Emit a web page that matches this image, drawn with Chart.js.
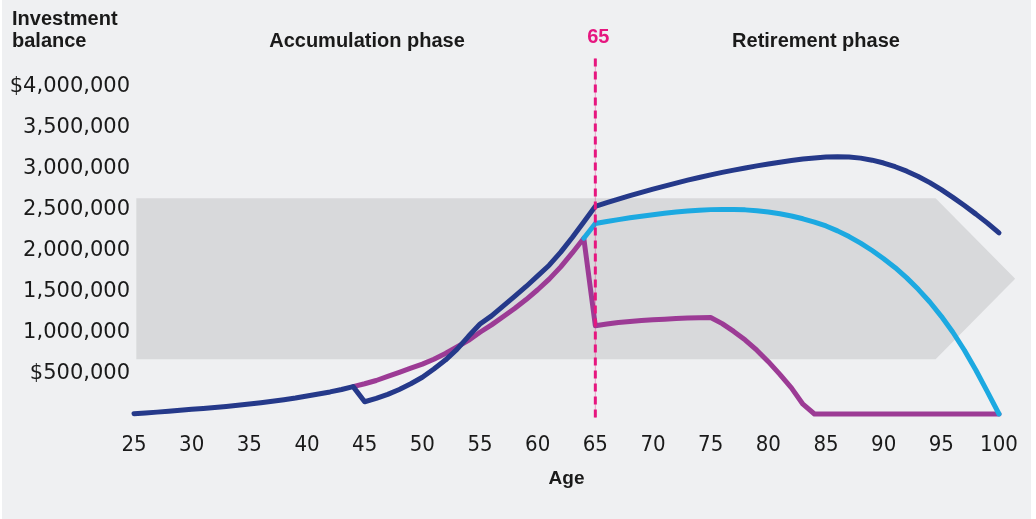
<!DOCTYPE html>
<html><head><meta charset="utf-8">
<script src="https://cdn.jsdelivr.net/npm/chart.js@4"></script>
<style>html,body{margin:0;padding:0;background:#ffffff;}#wrap{width:1036px;height:519px;position:relative;}</style>
</head><body><div id="wrap"><canvas id="c"></canvas></div>
<script>
const ages = [25,26,27,28,29,30,31,32,33,34,35,36,37,38,39,40,41,42,43,44,45,46,47,48,49,50,
  51,52,53,54,55,56,57,58,59,60,61,62,63,64,65,66,67,68,69,70,71,72,73,74,75,
  76,77,78,79,80,81,82,83,84,85,86,87,88,89,90,91,92,93,94,95,96,97,98,99,100];

// Dark blue series (ages 25-100)
const balanceDarkBlue = [4000,13000,23000,34000,45000,57000,68000,80000,93000,107000,
  122000,138000,155000,174000,195000,220000,245000,270000,300000,335000,
  150000,190000,240000,300000,370000,450000,550000,660000,790000,950000,
  1100000,1200000,1320000,1440000,1560000,1690000,1820000,1980000,2160000,2350000,
  2540000,2585000,2628000,2670000,2710000,2750000,2788000,2825000,2860000,2893000,
  2925000,2955000,2983000,3010000,3035000,3058000,3080000,3100000,3118000,3132000,
  3143000,3148000,3145000,3130000,3105000,3070000,3025000,2970000,2905000,2830000,
  2745000,2650000,2550000,2445000,2335000,2215000];

// Light blue series (ages 25-100, starts at 64)
const balanceLightBlue = [null,null,null,null,null,null,null,null,null,null,
  null,null,null,null,null,null,null,null,null,null,
  null,null,null,null,null,null,null,null,null,null,
  null,null,null,null,null,null,null,null,null,2150000,
  2330000,2355000,2378000,2400000,2420000,2438000,2455000,2470000,2483000,2493000,
  2500000,2503000,2502000,2497000,2487000,2472000,2450000,2422000,2388000,2348000,
  2300000,2240000,2170000,2090000,2000000,1900000,1790000,1665000,1525000,1370000,
  1195000,1000000,780000,535000,270000,0];

// Purple series (ages 25-100, starts at 44)
const balancePurple = [null,null,null,null,null,null,null,null,null,null,
  null,null,null,null,null,null,null,null,null,335000,
  370000,410000,460000,510000,560000,610000,670000,740000,820000,900000,
  1000000,1090000,1190000,1290000,1400000,1520000,1650000,1800000,1970000,2150000,
  1080000,1100000,1118000,1132000,1143000,1152000,1160000,1167000,1173000,1177000,
  1180000,1105000,1010000,905000,780000,640000,485000,320000,120000,0,
  0,0,0,0,0,0,0,0,0,0,
  0,0,0,0,0,0];

const xTickValues = [25,30,35,40,45,50,55,60,65,70,75,80,85,90,95,100];
const yTickValues = [500000,1000000,1500000,2000000,2500000,3000000,3500000,4000000];
const yTickLabels = ['$500,000','1,000,000','1,500,000','2,000,000','2,500,000','3,000,000','3,500,000','$4,000,000'];

const retirementAge = 65;

const toPoints = arr => ages.map((a,i)=>({x:a,y:arr[i]})).filter(p=>p.y!==null);

const bgPlugin = {
  id:'bg',
  beforeDraw(chart){
    const ctx=chart.ctx;
    ctx.save();
    ctx.fillStyle='#ffffff';ctx.fillRect(0,0,chart.width,chart.height);
    ctx.fillStyle='#eff0f2';ctx.fillRect(2,0,1029,chart.height);
    ctx.restore();
  }
};

const bandPlugin = {
  id:'band',
  beforeDatasetsDraw(chart){
    const {ctx,scales:{x,y}}=chart;
    const x0=x.getPixelForValue(25.2), x1=x.getPixelForValue(94.5), xt=x.getPixelForValue(101.4);
    const yT=y.getPixelForValue(2640000), yB=y.getPixelForValue(670000), yM=(yT+yB)/2;
    ctx.save();
    ctx.fillStyle='#d8d9db';
    ctx.beginPath();
    ctx.moveTo(x0,yT);ctx.lineTo(x1,yT);ctx.lineTo(xt,yM);ctx.lineTo(x1,yB);ctx.lineTo(x0,yB);
    ctx.closePath();ctx.fill();
    ctx.restore();
  }
};

const annoPlugin = {
  id:'anno',
  afterDatasetsDraw(chart){
    const {ctx,scales:{x,y}}=chart;
    const px=x.getPixelForValue(retirementAge);
    const yTop=y.getPixelForValue(4350000), yBot=y.getPixelForValue(-45000);
    ctx.save();
    ctx.strokeStyle='rgba(230,22,127,0.35)';ctx.lineWidth=1;
    ctx.beginPath();ctx.moveTo(px,yTop);ctx.lineTo(px,yBot);ctx.stroke();
    ctx.strokeStyle='#e6167f';ctx.lineWidth=3;ctx.setLineDash([8,5]);
    ctx.beginPath();ctx.moveTo(px,yTop);ctx.lineTo(px,yBot);ctx.stroke();
    ctx.setLineDash([]);
    ctx.fillStyle='#1a1a1a';
    ctx.font='bold 20px "Liberation Sans", Arial, sans-serif';
    ctx.textAlign='left';ctx.textBaseline='alphabetic';
    ctx.fillText('Investment',12,25);
    ctx.fillText('balance',12,47);
    ctx.textAlign='center';
    ctx.fillText('Accumulation phase',367,47);
    ctx.fillText('Retirement phase',816,47);
    ctx.fillStyle='#e6167f';
    ctx.fillText(String(retirementAge),px+3,43);
    ctx.restore();
  }
};

const lineStyle = {borderWidth:5,pointRadius:0,pointHoverRadius:0,tension:0,borderCapStyle:'round',borderJoinStyle:'round',fill:false,clip:false};

new Chart(document.getElementById('c'),{
  type:'line',
  data:{
    datasets:[
      Object.assign({label:'Dark blue',data:toPoints(balanceDarkBlue),borderColor:'#25398a'},lineStyle),
      Object.assign({label:'Light blue',data:toPoints(balanceLightBlue),borderColor:'#1ca9e1'},lineStyle),
      Object.assign({label:'Purple',data:toPoints(balancePurple),borderColor:'#9c3b95'},lineStyle)
    ]
  },
  options:{
    responsive:true,maintainAspectRatio:false,animation:false,
    layout:{padding:{top:87,right:37,left:0,bottom:0}},
    plugins:{legend:{display:false},tooltip:{enabled:false}},
    scales:{
      x:{type:'linear',min:25,max:100,
        grid:{display:false,drawTicks:false},border:{display:false},
        afterBuildTicks(s){s.ticks=xTickValues.map(v=>({value:v}));},
        afterFit(s){s.height=105;},
        ticks:{autoSkip:false,maxRotation:0,padding:18,color:'#1a1a1a',
          font:{family:'"DejaVu Sans Condensed","DejaVu Sans",sans-serif',size:22},
          callback:(v)=>String(v)},
        title:{display:true,text:'Age',color:'#1a1a1a',font:{family:'"Liberation Sans",Arial,sans-serif',size:19,weight:'bold'},padding:{top:0,bottom:29}}
      },
      y:{type:'linear',min:0,max:4000000,
        grid:{display:false,drawTicks:false},border:{display:false},
        afterBuildTicks(s){s.ticks=yTickValues.map(v=>({value:v}));},
        afterFit(s){s.width=134;},
        ticks:{autoSkip:false,padding:4,color:'#1a1a1a',
          font:{family:'"DejaVu Sans",sans-serif',size:21},
          callback:(v)=>{const i=yTickValues.indexOf(v);return i>=0?yTickLabels[i]:'';}}
      }
    }
  },
  plugins:[bgPlugin,bandPlugin,annoPlugin]
});
</script></body></html>
